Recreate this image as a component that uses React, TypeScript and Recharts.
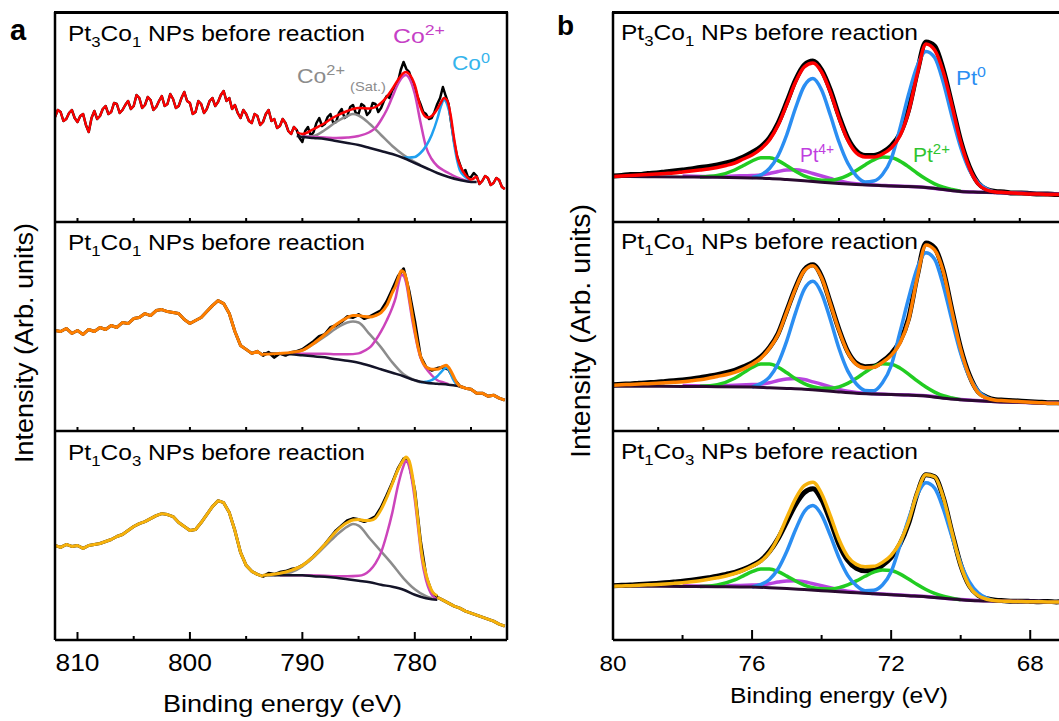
import React from "react";
import { LineChart, Line, XAxis, YAxis } from "recharts";

const FONT = '"Liberation Sans", Arial, Helvetica, sans-serif';

/* ---------------- (a) Co 2p raw spectra ---------------- */
// Pt3Co1 is noisier, sampled on a 0.25 eV grid
const coE1 = [
  812, 811.75, 811.5, 811.25, 811, 810.75, 810.5, 810.25, 810, 809.75,
  809.5, 809.25, 809, 808.75, 808.5, 808.25, 808, 807.75, 807.5, 807.25,
  807, 806.75, 806.5, 806.25, 806, 805.75, 805.5, 805.25, 805, 804.75,
  804.5, 804.25, 804, 803.75, 803.5, 803.25, 803, 802.75, 802.5, 802.25,
  802, 801.75, 801.5, 801.25, 801, 800.75, 800.5, 800.25, 800, 799.75,
  799.5, 799.25, 799, 798.75, 798.5, 798.25, 798, 797.75, 797.5, 797.25,
  797, 796.75, 796.5, 796.25, 796, 795.75, 795.5, 795.25, 795, 794.75,
  794.5, 794.25, 794, 793.75, 793.5, 793.25, 793, 792.75, 792.5, 792.25,
  792, 791.75, 791.5, 791.25, 791, 790.75, 790.5, 790.25, 790, 789.75,
  789.5, 789.25, 789, 788.75, 788.5, 788.25, 788, 787.75, 787.5, 787.25,
  787, 786.75, 786.5, 786.25, 786, 785.75, 785.5, 785.25, 785, 784.75,
  784.5, 784.25, 784, 783.75, 783.5, 783.25, 783, 782.75, 782.5, 782.25,
  782, 781.75, 781.5, 781.25, 781, 780.75, 780.5, 780.25, 780, 779.75,
  779.5, 779.25, 779, 778.75, 778.5, 778.25, 778, 777.75, 777.5, 777.25,
  777, 776.75, 776.5, 776.25, 776, 775.75, 775.5, 775.25, 775, 774.75,
  774.5, 774.25, 774, 773.75, 773.5, 773.25, 773, 772.75, 772.5, 772.25, 772,
];
const coRaw1 = [
  105, 112, 110, 101, 103, 109, 112, 104, 100, 106,
  108, 97, 90, 104, 111, 103, 106, 113, 116, 108,
  110, 119, 118, 109, 112, 117, 121, 113, 116, 127,
  124, 114, 117, 125, 122, 112, 115, 121, 126, 116,
  118, 128, 123, 114, 116, 124, 130, 121, 119, 108,
  110, 121, 118, 109, 113, 121, 124, 116, 120, 127,
  131, 121, 124, 113, 117, 109, 104, 112, 108, 101,
  99, 108, 106, 97, 100, 108, 112, 101, 103, 94,
  96, 103, 99, 91, 88, 95, 92, 84, 80, 91,
  95, 86, 90, 99, 104, 96, 98, 105, 108, 99,
  100, 109, 113, 104, 106, 115, 117, 109, 108, 118,
  116, 107, 110, 119, 118, 110, 114, 121, 126, 124,
  132, 134, 140, 152, 160, 153, 150, 141, 135, 125,
  118, 110, 108, 103, 104, 110, 118, 124, 135, 126,
  118, 98, 80, 66, 58, 50, 52, 44, 45, 49,
  46, 38, 41, 46, 44, 37, 39, 44, 42, 35, 33,
];

// Pt1Co1 and Pt1Co3 on a 0.5 eV grid
const coE = [
  812, 811.5, 811, 810.5, 810, 809.5, 809, 808.5, 808, 807.5,
  807, 806.5, 806, 805.5, 805, 804.5, 804, 803.5, 803, 802.5,
  802, 801.5, 801, 800.5, 800, 799.5, 799, 798.5, 798, 797.5,
  797, 796.5, 796, 795.5, 795, 794.5, 794, 793.5, 793, 792.5,
  792, 791.5, 791, 790.5, 790, 789.5, 789, 788.5, 788, 787.5,
  787, 786.5, 786, 785.5, 785, 784.5, 784, 783.5, 783, 782.5,
  782, 781.5, 781, 780.5, 780, 779.5, 779, 778.5, 778, 777.5,
  777, 776.5, 776, 775.5, 775, 774.5, 774, 773.5, 773, 772.5, 772,
];
const coRaw2 = [
  101, 100, 103, 98, 101, 97, 102, 100, 104, 102,
  106, 104, 109, 108, 113, 114, 118, 116, 121, 122,
  120, 119, 118, 112, 108, 111, 114, 120, 126, 131,
  128, 118, 100, 86, 82, 78, 80, 76, 79, 74,
  78, 76, 79, 80, 82, 86, 90, 95, 97, 104,
  106, 110, 115, 114, 117, 113, 115, 118, 121, 130,
  142, 155, 163, 140, 110, 75, 64, 61, 63, 64,
  62, 52, 45, 43, 42, 38, 38, 35, 36, 33, 31,
];
const coRaw3 = [
  95, 93, 96, 94, 95, 92, 95, 96, 97, 99,
  101, 104, 106, 110, 114, 117, 119, 122, 125, 127,
  126, 124, 118, 114, 110, 111, 118, 126, 134, 140,
  138, 128, 110, 88, 75, 69, 66, 64, 67, 66,
  68, 69, 71, 72, 75, 79, 84, 90, 96, 103,
  110, 115, 120, 122, 121, 119, 121, 124, 133, 145,
  158, 172, 182, 178, 150, 100, 64, 48, 43, 40,
  37, 34, 32, 29, 27, 25, 23, 21, 19, 16, 14,
];

// Pt3Co1 fit components
const a1BgE = [790.5, 790, 789, 788, 787, 786, 785, 784, 783, 782, 781, 780, 779, 778, 777, 776, 775, 774.5];
const a1Bg = [86, 85, 84, 83, 81, 79, 77, 74, 71, 68, 64, 59, 54, 49, 45, 42, 40, 40];
const a1SatE = [790, 789, 788, 787, 786, 785.5, 785, 784, 783, 782, 781, 780, 779.5];
const a1Sat = [85, 86, 92, 100, 106, 108, 106.5, 98, 87, 76, 67, 60, 57];
const a1Co2E = [790, 789, 788, 787, 786, 785, 784, 783.5, 783, 782.5, 782, 781.5, 781, 780.8, 780.5, 780, 779.5, 779, 778.5, 778, 777.5, 777, 776.5, 776, 775.5, 775];
const a1Co2 = [85.5, 85, 84.5, 84, 84.5, 86, 90, 94, 102, 112, 125, 138, 146, 147, 144, 128, 100, 75, 63, 56, 52, 49, 46, 43.5, 41.5, 40.5];
const a1Co0E = [781, 780.5, 780, 779.5, 779, 778.5, 778, 777.7, 777.4, 777.1, 776.8, 776.5, 776.2, 776, 775.5, 775];
const a1Co0 = [64.5, 64.5, 65, 69, 76, 87, 103, 115, 122, 117, 103, 78, 60, 52, 45, 41.5];
const a1FitE = [790.5, 790, 789, 788, 787.6, 787, 786, 785.5, 785, 784, 783.5, 783, 782.5, 782, 781.5, 781, 780.8, 780.5, 780, 779.5, 779, 778.8, 778.5, 778, 777.7, 777.4, 777.1, 776.8, 776.5, 776.2, 776, 775.5, 775, 774.5];
const a1Fit = [90, 88, 93, 99, 102, 106, 111, 113, 114, 113.5, 115, 119, 125, 133, 142, 149, 150, 148, 137, 115, 105, 104.5, 106, 113, 119, 124, 121, 106, 83, 64, 57, 47, 42.5, 46];

// Pt1Co1 fit components
const a2BgE = [793.5, 792, 791, 790, 789, 788, 787, 786, 785, 784, 783, 782, 781, 780, 779, 778, 777, 776];
const a2Bg = [78, 77.5, 77, 76, 75, 74, 72, 70.5, 68.5, 65.5, 62, 58.5, 55, 51, 48.5, 47.5, 46.5, 45];
const a2SatE = [792, 791, 790, 789, 788, 787, 786, 785.5, 785, 784, 783, 782, 781, 780, 779.5];
const a2Sat = [77.5, 78, 81, 87.5, 95, 103, 109, 110, 109, 97, 84, 69, 57, 51, 49];
const a2Co2E = [792, 791, 790, 789, 788, 787, 786, 785, 784.5, 784, 783.5, 783, 782.5, 782, 781.7, 781.4, 781.2, 781, 780.7, 780.5, 780.2, 780, 779.7, 779.4, 779, 778.5, 778, 777.5, 777];
const a2Co2 = [77.5, 77.5, 77.5, 77.5, 77.5, 77, 77, 78, 80.5, 84, 91, 100, 111, 124, 134, 150, 157, 156, 145, 131, 110, 98, 82, 71, 63, 56, 51, 49, 47];
const a2Co0E = [779.5, 779, 778.5, 778, 777.6, 777.2, 776.9, 776.6, 776.3, 776];
const a2Co0 = [49, 49.5, 51, 55, 60, 63.5, 60, 52, 47, 45];
const a2FitE = [793.5, 792, 791, 790, 789, 788, 787, 786, 785.5, 785, 784.5, 784, 783.5, 783, 782.5, 782, 781.7, 781.4, 781.2, 781, 780.7, 780.5, 780.2, 780, 779.7, 779.4, 779, 778.5, 778, 777.5, 777.2, 777, 776.6, 776.3, 776];
const a2Fit = [77, 78, 79, 81, 88, 97, 107, 114, 116, 116, 115, 114.5, 116, 119, 126, 139, 146, 156, 161, 160, 150, 136, 115, 102, 84, 72, 64.5, 62, 62, 65, 66, 64, 56, 49, 45];

// Pt1Co3 fit components
const a3BgE = [793.5, 792, 791, 790, 789, 788, 787, 786, 785, 784, 783, 782, 781, 780, 779, 778.5, 778];
const a3Bg = [65, 65, 65, 65, 64, 63.5, 62.5, 61, 59.5, 58, 55.5, 53.5, 50.5, 45.5, 42, 41, 40.5];
const a3SatE = [792.5, 792, 791, 790, 789, 788, 787, 786, 785.5, 785, 784, 783, 782, 781, 780, 779, 778.5];
const a3Sat = [65, 66, 68, 74, 83, 94, 105, 114, 116.5, 115, 102, 89, 76, 62, 51, 44, 42];
const a3Co2E = [792, 790, 788, 787, 786, 785, 784.5, 784, 783.5, 783, 782.5, 782, 781.5, 781, 780.8, 780.5, 780.2, 780, 779.7, 779.4, 779, 778.7, 778.4, 778];
const a3Co2 = [65, 65, 64.5, 64, 64, 64.5, 66, 70, 77, 88, 106, 128, 155, 175, 180, 174, 157, 141, 112, 83, 60, 50, 44, 41];
const a3FitE = [793.5, 793, 792, 791, 790, 789, 788, 787, 786, 785.5, 785, 784.5, 784, 783.5, 783, 782.5, 782, 781.5, 781, 780.8, 780.5, 780.2, 780, 779.7, 779.4, 779, 778.7, 778.4, 778];
const a3Fit = [65, 65.5, 67, 70, 75, 84, 96, 109, 118, 120.5, 121, 120, 120, 122.5, 131, 143, 157, 171, 181, 184, 180, 164, 148, 118, 88, 66, 55, 48, 44.5];

/* ---------------- (b) Pt 4f raw spectra, 0.25 eV grid ---------------- */
const ptE = [
  80, 79.75, 79.5, 79.25, 79, 78.75, 78.5, 78.25, 78, 77.75,
  77.5, 77.25, 77, 76.75, 76.5, 76.25, 76, 75.75, 75.5, 75.25,
  75, 74.75, 74.5, 74.25, 74, 73.75, 73.5, 73.25, 73, 72.75,
  72.5, 72.25, 72, 71.75, 71.5, 71.25, 71, 70.75, 70.5, 70.25,
  70, 69.75, 69.5, 69.25, 69, 68.75, 68.5, 68.25, 68, 67.75,
  67.5, 67.25, 67,
];
const ptRaw1 = [
  46, 46.5, 47.5, 47.5, 48.5, 49, 50, 51, 52, 53,
  54.5, 55.5, 57, 59, 61.5, 65, 69.5, 75, 84, 99,
  120, 142, 157, 161, 152, 132, 106, 84, 71, 66.5,
  66.5, 69.5, 76, 88, 112, 150, 180, 176, 152, 117,
  81, 55, 39, 32.5, 30.5, 30, 29, 29, 28.5, 28,
  28, 27.5, 27.5,
];
const ptFit1 = [
  45.5, 46, 46.5, 47, 47.5, 48, 48.5, 49, 50, 51,
  52, 53, 54.5, 56.5, 59, 63, 67, 73, 82, 97,
  118, 140, 155, 159, 150, 130, 104, 82, 69, 65,
  65, 68, 74, 86, 110, 148, 178, 172, 150, 116,
  80, 54, 38, 32, 30, 29.5, 29, 28.5, 28, 28,
  27.5, 27.5, 27,
];
const ptRaw2 = [
  46.5, 47, 47.3, 48, 48.5, 49, 49.8, 50.5, 51.3, 52.3,
  53.5, 55, 56.5, 58.5, 61, 64.5, 68.5, 74.5, 84, 98,
  121, 144, 162, 167, 155, 129, 102, 80, 68, 64.5,
  65, 70, 77.5, 90, 113, 156, 189, 184, 161, 121,
  83, 56, 39.5, 34, 31.5, 31, 30.5, 30, 29.5, 29,
  28.5, 28.5, 28,
];
const ptFit2 = [
  46, 46.4, 46.8, 47.2, 47.6, 48, 48.5, 49, 49.6, 50.5,
  51.5, 53, 54.8, 56.5, 59, 62.5, 67, 73, 83, 97,
  120, 143, 161, 166, 154, 128, 101, 79, 67, 63.5,
  64, 69, 76, 88, 111, 154, 187, 182, 160, 120,
  82, 55, 38.5, 33, 31, 30.5, 30, 29.5, 29, 28.5,
  28, 27.8, 27.5,
];
const ptRaw3 = [
  54.5, 55, 55.2, 55.8, 56.2, 56.8, 57.5, 58.3, 59, 60,
  61.2, 62.5, 64, 66, 68, 71, 75, 80, 89, 102,
  119, 136, 148, 152, 141, 120, 96, 80, 72, 69.5,
  70, 75, 83, 96, 117, 147, 166, 164, 143, 108,
  75.5, 54.5, 45, 41.5, 40, 39.5, 39, 39, 38.8, 38.5,
  38.8, 38.3, 38.5,
];
const ptFit3 = [
  54, 54.3, 54.6, 55, 55.4, 55.8, 56.3, 56.9, 57.6, 58.5,
  59.6, 61, 62.5, 64.3, 66.8, 70, 74, 79, 88, 103,
  123, 142, 155, 158.5, 147, 125, 101, 84, 76, 73.5,
  74, 78, 85, 98, 119, 148, 166, 164, 143, 108,
  75, 54, 44.5, 41, 39.5, 39, 38.8, 38.6, 38.5, 38.4,
  38.3, 38.3, 38.2,
];

// Pt 4f components (own energy grids)
const pt0E = [76, 75.75, 75.5, 75.25, 75, 74.75, 74.5, 74.25, 74, 73.75, 73.5, 73.25, 73, 72.75, 72.5, 72.25, 72, 71.75, 71.5, 71.25, 71, 70.75, 70.5, 70.25, 70, 69.75, 69.5, 69.25, 69];
const pt0B1 = [44.5, 47, 53.5, 66.5, 87.5, 114, 136, 143.5, 132, 107, 80, 59, 46, 40, 41, 47.5, 63, 93, 127.5, 156, 170.5, 164.5, 139.5, 105.5, 74.5, 52, 39.4, 33, 29.5];
const pt0B2 = [44.2, 47.6, 54.1, 68.1, 90.8, 118.7, 142.3, 150.4, 138.2, 112, 82.9, 60.4, 47.2, 40.8, 40.5, 48.5, 65.6, 98.7, 133.1, 163.7, 179.2, 172.6, 146, 110.9, 77.9, 54.4, 40.4, 33.7, 30.5];
const pt0B3 = [53.2, 55.8, 60.8, 71.6, 89.2, 110.8, 128.9, 135.2, 125.6, 105.1, 82.5, 65, 54.6, 49.5, 50, 55.2, 68.5, 94.5, 121.5, 145.7, 157.9, 152.6, 131.7, 103.6, 77.3, 58.5, 47.4, 42.2, 39];

const pt2E = [77.5, 77, 76.5, 76.25, 76, 75.75, 75.5, 75.25, 75, 74.75, 74.5, 74.25, 74, 73.75, 73.5, 73.25, 73, 72.75, 72.5, 72.25, 72, 71.75, 71.5, 71.25, 71, 70.75, 70.5, 70.25, 70];
const pt2B1 = [45, 46.5, 52, 56.5, 61, 64.2, 64.3, 61.3, 56.3, 50.8, 46.2, 43.3, 41.8, 41.7, 43.3, 46.7, 51.5, 57.1, 62.2, 64.9, 64.5, 60.9, 55.3, 48.8, 43, 38.2, 34.8, 32.5, 30.7];
const pt2B2 = [44.9, 46.6, 53, 58.4, 63.8, 67.2, 67.3, 64.1, 58.5, 52.5, 47.6, 44.4, 43, 42.9, 44.4, 47.9, 52.9, 59, 64.5, 67.5, 67.1, 63.3, 57.2, 50.4, 44.2, 39.1, 35.4, 33.2, 31.5];
const pt2B3 = [53.7, 55.3, 60.3, 64.5, 68.7, 71.3, 71.4, 68.7, 64.2, 59.3, 55.2, 52.6, 51.4, 51.3, 52.6, 55.4, 59.4, 64, 68.2, 70.4, 69.8, 66.5, 61.3, 55.7, 50.7, 46.8, 43.9, 42, 40.5];

const pt4E = [78, 77, 76.5, 76, 75.75, 75.5, 75.25, 75, 74.75, 74.5, 74.25, 74, 73.75, 73.5, 73.25, 73, 72.5, 72, 71, 70, 69, 68, 67];
const pt4B1 = [46, 45.5, 46, 46.5, 47, 48.5, 50.5, 52, 52.3, 51, 48.5, 46, 43.5, 41, 39.3, 38.2, 37, 36.2, 34.6, 30.6, 29.4, 28.6, 28.1];
const pt4B2 = [45.8, 45.3, 46, 46.7, 47.1, 48.5, 50.7, 52.3, 52.8, 51.7, 49.4, 47, 44.4, 41.8, 39.9, 38.7, 37.5, 36.8, 35.3, 31.6, 29.6, 28.6, 27.6];
const pt4B3 = [54.6, 54.2, 54.7, 55.2, 55.5, 56.6, 58.2, 59.4, 59.6, 58.5, 56.6, 54.6, 52.5, 50.5, 49, 48.1, 46.8, 45.7, 43.6, 40.6, 39.1, 38.7, 38.4];

const ptBgE = [80, 79, 78, 77, 76, 75.5, 75, 74.5, 74, 73.5, 73, 72.5, 72, 71.5, 71, 70.5, 70, 69.5, 69, 68, 67];
const ptBg1 = [45.5, 45.3, 45, 44.7, 44, 43.5, 42.5, 41.3, 39.8, 38.5, 37.5, 36.7, 36, 35.5, 34.5, 32.5, 30.5, 29.8, 29.3, 28.5, 28];
const ptBg2 = [45, 45, 44.8, 44.5, 44.2, 43.5, 42.8, 42, 40.8, 39.3, 38, 37.2, 36.6, 36.1, 35.2, 33, 31.5, 30.4, 29.5, 28.5, 27.5];
const ptBg3 = [54, 54, 53.8, 53.6, 53.2, 52.6, 51.8, 50.7, 49.6, 48.5, 47.5, 46.5, 45.5, 44.5, 43.5, 42, 40.5, 39.4, 39, 38.6, 38.3];

/* ---------------- axes ---------------- */
const coTicks = [810, 805, 800, 795, 790, 785, 780, 775];
const coMajor = [810, 800, 790, 780];
const ptTicks = [80, 78, 76, 74, 72, 70, 68];
const ptMajor = [80, 76, 72, 68];
const ptDividerTicks = [78.7, 77.4, 76.1, 74.8, 73.5, 72.2, 70.9, 69.6, 68.3];
const Y_MAX = 210;

const samples = [["3", "1"], ["1", "1"], ["1", "3"]];

const RED = "#ff0000";
const ORANGE = "#ff7f00";
const GOLD = "#f7b20c";
const A_BG = "#141428";
const A_SAT = "#8c8c8c";
const A_CO2 = "#cc44bb";
const A_CO0 = "#1fa0f0";
const B_BG = "#2a0a30";
const B_PT4 = "#b844e0";
const B_PT2 = "#22cc22";
const B_PT0 = "#2b8ef2";

type Row = { e: number; h: number | null };
const zip = (e: number[], h: number[]): Row[] => e.map((x, i) => ({ e: x, h: h[i] }));
// raw points outside the fitted window, drawn in the envelope colour
const outside = (e: number[], h: number[], lo: number, hi: number): Row[] =>
  e.map((x, i) => ({ e: x, h: x <= lo || x >= hi ? h[i] : null }));

interface Curve {
  rows: Row[];
  color: string;
  width: number;
  smooth?: boolean;
}

interface PanelProps {
  left: number;
  top: number;
  plotW: number;
  plotH: number;
  domain: [number, number];
  ticks: number[];
  majors: number[];
  labels: boolean;
  labelSize: number;
  labelWidth: number;
  majorLen: number;
  minorLen: number;
  curves: Curve[];
}

function Subpanel(p: PanelProps) {
  const m = 24;
  const axisH = p.labels ? 44 : 1;
  const bottomTick = (props: any) => {
    const { x, y, payload } = props;
    const major = p.majors.includes(payload.value);
    const len = major ? p.majorLen : p.minorLen;
    return (
      <g>
        <line x1={x} x2={x} y1={y} y2={y - len} stroke="#000" strokeWidth={2} />
        {p.labels && major && (
          <text
            x={x}
            y={y + 31}
            textAnchor="middle"
            fontSize={p.labelSize}
            fontFamily={FONT}
            textLength={p.labelWidth}
            lengthAdjust="spacingAndGlyphs"
            fill="#000"
          >
            {payload.value}
          </text>
        )}
      </g>
    );
  };
  const axisLine = { stroke: "#000", strokeWidth: 2.5 };
  return (
    <div style={{ position: "absolute", left: p.left - m, top: p.top - m }}>
      <LineChart
        width={p.plotW + 2 * m}
        height={p.plotH + 2 * m + (p.labels ? 44 : 0)}
        margin={{ top: m, right: m - 1, bottom: p.labels ? m : m - 1, left: m - 1 }}
      >
        <XAxis
          xAxisId="b"
          dataKey="e"
          type="number"
          domain={p.domain}
          reversed
          allowDataOverflow
          ticks={p.ticks}
          interval={0}
          tickSize={0}
          tickMargin={0}
          tickLine={false}
          tick={bottomTick}
          height={axisH}
          axisLine={axisLine}
        />
        <YAxis yAxisId="l" type="number" domain={[0, Y_MAX]} allowDataOverflow width={1} tick={false} tickLine={false} axisLine={axisLine} />
        <YAxis yAxisId="r" orientation="right" type="number" domain={[0, Y_MAX]} allowDataOverflow width={1} tick={false} tickLine={false} axisLine={axisLine} />
        {p.curves.map((c, i) => (
          <Line
            key={i}
            xAxisId="b"
            yAxisId="l"
            data={c.rows}
            dataKey="h"
            type={c.smooth ? "monotone" : "linear"}
            stroke={c.color}
            strokeWidth={c.width}
            strokeLinejoin="round"
            dot={false}
            activeDot={false}
            connectNulls={false}
            isAnimationActive={false}
          />
        ))}
      </LineChart>
    </div>
  );
}

const rowTops = [12, 222, 431];
const rowHeights = [210, 209, 209];

const coCurves: Curve[][] = [
  [
    { rows: zip(coE1, coRaw1), color: "#000", width: 2.5 },
    { rows: zip(a1SatE, a1Sat), color: A_SAT, width: 2.5, smooth: true },
    { rows: zip(a1Co2E, a1Co2), color: A_CO2, width: 2.5, smooth: true },
    { rows: zip(a1Co0E, a1Co0), color: A_CO0, width: 2.5, smooth: true },
    { rows: zip(a1BgE, a1Bg), color: A_BG, width: 2.5, smooth: true },
    { rows: zip(a1FitE, a1Fit), color: RED, width: 2.5, smooth: true },
    { rows: outside(coE1, coRaw1, 774.5, 790.5), color: RED, width: 2.2 },
  ],
  [
    { rows: zip(coE, coRaw2), color: "#000", width: 3 },
    { rows: zip(a2SatE, a2Sat), color: A_SAT, width: 2.5, smooth: true },
    { rows: zip(a2Co2E, a2Co2), color: A_CO2, width: 2.5, smooth: true },
    { rows: zip(a2Co0E, a2Co0), color: A_CO0, width: 2.5, smooth: true },
    { rows: zip(a2BgE, a2Bg), color: A_BG, width: 2.5, smooth: true },
    { rows: zip(a2FitE, a2Fit), color: ORANGE, width: 3, smooth: true },
    { rows: outside(coE, coRaw2, 776, 793.5), color: ORANGE, width: 3 },
  ],
  [
    { rows: zip(coE, coRaw3), color: "#000", width: 3 },
    { rows: zip(a3SatE, a3Sat), color: A_SAT, width: 2.5, smooth: true },
    { rows: zip(a3Co2E, a3Co2), color: A_CO2, width: 2.5, smooth: true },
    { rows: zip(a3BgE, a3Bg), color: A_BG, width: 2.5, smooth: true },
    { rows: zip(a3FitE, a3Fit), color: GOLD, width: 3, smooth: true },
    { rows: outside(coE, coRaw3, 778, 793.5), color: GOLD, width: 3 },
  ],
];

const ptSets = [
  { raw: ptRaw1, fit: ptFit1, pt0: pt0B1, pt2: pt2B1, pt4: pt4B1, bg: ptBg1, env: RED },
  { raw: ptRaw2, fit: ptFit2, pt0: pt0B2, pt2: pt2B2, pt4: pt4B2, bg: ptBg2, env: ORANGE },
  { raw: ptRaw3, fit: ptFit3, pt0: pt0B3, pt2: pt2B3, pt4: pt4B3, bg: ptBg3, env: GOLD },
];
const ptCurves: Curve[][] = ptSets.map((s) => [
  { rows: zip(ptE, s.raw), color: "#000", width: 5, smooth: true },
  { rows: zip(pt4E, s.pt4), color: B_PT4, width: 3.5, smooth: true },
  { rows: zip(pt2E, s.pt2), color: B_PT2, width: 3.5, smooth: true },
  { rows: zip(pt0E, s.pt0), color: B_PT0, width: 3.5, smooth: true },
  { rows: zip(ptBgE, s.bg), color: B_BG, width: 3, smooth: true },
  { rows: zip(ptE, s.fit), color: s.env, width: 3.5, smooth: true },
]);

function SampleLabel({ x, y, sub }: { x: number; y: number; sub: string[] }) {
  return (
    <text x={x} y={y} fontSize={22} fontFamily={FONT} fill="#000" textLength={297} lengthAdjust="spacingAndGlyphs">
      Pt
      <tspan fontSize={15} dy={6}>{sub[0]}</tspan>
      <tspan dy={-6}>Co</tspan>
      <tspan fontSize={15} dy={6}>{sub[1]}</tspan>
      <tspan dy={-6}>{" NPs before reaction"}</tspan>
    </text>
  );
}

function PeakLabel(props: { x: number; y: number; base: string; sup: string; color: string; w: number; dy?: number }) {
  const dy = props.dy ?? -8;
  return (
    <text x={props.x} y={props.y} fontSize={21} fontFamily={FONT} fill={props.color} textLength={props.w} lengthAdjust="spacingAndGlyphs">
      {props.base}
      <tspan fontSize={15} dy={dy}>{props.sup}</tspan>
    </text>
  );
}

// top edge of each frame, as a plain bar
const frameTop = (left: number, width: number): React.CSSProperties => ({
  position: "absolute",
  left,
  top: 11,
  width,
  height: 3,
  background: "#000",
  zIndex: 5,
});

export default function App() {
  return (
    <div
      style={{
        position: "fixed",
        left: 0,
        top: 0,
        width: 1059,
        height: 721,
        overflow: "hidden",
        background: "#fff",
      }}
    >
      {coCurves.map((curves, i) => (
        <Subpanel
          key={"a" + i}
          left={55}
          top={rowTops[i]}
          plotW={452}
          plotH={rowHeights[i]}
          domain={[771.8, 812]}
          ticks={coTicks}
          majors={coMajor}
          labels={i === 2}
          labelSize={24}
          labelWidth={44}
          majorLen={i === 2 ? 8 : 4}
          minorLen={4}
          curves={curves}
        />
      ))}
      {ptCurves.map((curves, i) => (
        <Subpanel
          key={"b" + i}
          left={613}
          top={rowTops[i]}
          plotW={452}
          plotH={rowHeights[i]}
          domain={[67, 80]}
          ticks={i === 2 ? ptTicks : ptDividerTicks}
          majors={i === 2 ? ptMajor : []}
          labels={i === 2}
          labelSize={22}
          labelWidth={27}
          majorLen={10}
          minorLen={i === 2 ? 5 : 4}
          curves={curves}
        />
      ))}

      <div style={frameTop(54, 454)} />
      <div style={frameTop(612, 447)} />

      <svg
        width={1059}
        height={721}
        style={{ position: "absolute", left: 0, top: 0, pointerEvents: "none", zIndex: 6 }}
        fontFamily={FONT}
      >
        <text x={10} y={40} fontSize={29} fontWeight="bold" fill="#000">a</text>
        <text x={557} y={35} fontSize={28} fontWeight="bold" fill="#000">b</text>

        {samples.map((s, i) => (
          <SampleLabel key={"sa" + i} x={68} y={[41, 250, 460][i]} sub={s} />
        ))}
        {samples.map((s, i) => (
          <SampleLabel key={"sb" + i} x={621} y={[40, 249, 459][i]} sub={s} />
        ))}

        <PeakLabel x={297} y={83} base="Co" sup="2+" color={A_SAT} w={48} />
        <text x={350} y={91} fontSize={13} fill={A_SAT} textLength={36} lengthAdjust="spacingAndGlyphs">(Sat.)</text>
        <PeakLabel x={393} y={43} base="Co" sup="2+" color="#c63fc6" w={52} />
        <PeakLabel x={452} y={70} base="Co" sup="0" color="#35b4ec" w={38} dy={-7} />
        <PeakLabel x={956} y={85} base="Pt" sup="0" color={B_PT0} w={30} />
        <PeakLabel x={800} y={162} base="Pt" sup="4+" color="#c03de0" w={34} />
        <PeakLabel x={913} y={162} base="Pt" sup="2+" color="#2fc42f" w={37} />

        <text transform="translate(33 343) rotate(-90)" textAnchor="middle" fontSize={26} fill="#000" textLength={240} lengthAdjust="spacingAndGlyphs">
          Intensity (Arb. units)
        </text>
        <text transform="translate(590 331) rotate(-90)" textAnchor="middle" fontSize={27} fill="#000" textLength={254} lengthAdjust="spacingAndGlyphs">
          Intensity (Arb. units)
        </text>
        <text x={282.5} y={712} textAnchor="middle" fontSize={24} fill="#000" textLength={239} lengthAdjust="spacingAndGlyphs">
          Binding energy (eV)
        </text>
        <text x={839} y={703} textAnchor="middle" fontSize={22} fill="#000" textLength={218} lengthAdjust="spacingAndGlyphs">
          Binding energy (eV)
        </text>
      </svg>
    </div>
  );
}
